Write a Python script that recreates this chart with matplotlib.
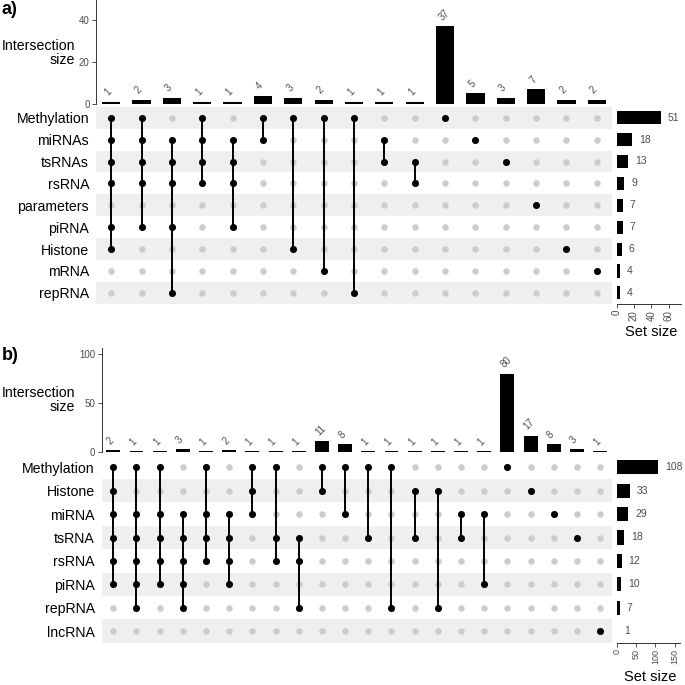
import matplotlib
matplotlib.use("Agg")
import matplotlib.pyplot as plt

plt.rcParams['font.family'] = ['Liberation Sans', 'DejaVu Sans']

# ---------------- data: panel a ----------------
sets_a = ["Methylation", "miRNAs", "tsRNAs", "rsRNA", "parameters", "piRNA", "Histone", "mRNA", "repRNA"]
set_sizes_a = [51, 18, 13, 9, 7, 7, 6, 4, 4]
inter_counts_a = [1, 2, 3, 1, 1, 4, 3, 2, 1, 1, 1, 37, 5, 3, 7, 2, 2]
inter_members_a = [
    ["Methylation", "miRNAs", "tsRNAs", "rsRNA", "piRNA", "Histone"],
    ["Methylation", "miRNAs", "tsRNAs", "rsRNA", "piRNA"],
    ["miRNAs", "tsRNAs", "rsRNA", "piRNA", "repRNA"],
    ["Methylation", "miRNAs", "tsRNAs", "rsRNA"],
    ["miRNAs", "tsRNAs", "rsRNA", "piRNA"],
    ["Methylation", "miRNAs"],
    ["Methylation", "Histone"],
    ["Methylation", "mRNA"],
    ["Methylation", "repRNA"],
    ["miRNAs", "tsRNAs"],
    ["tsRNAs", "rsRNA"],
    ["Methylation"],
    ["miRNAs"],
    ["tsRNAs"],
    ["parameters"],
    ["Histone"],
    ["mRNA"],
]
size_ticks_a = [0, 20, 40, 60]
inter_ticks_a = [0, 20, 40]

# ---------------- data: panel b ----------------
sets_b = ["Methylation", "Histone", "miRNA", "tsRNA", "rsRNA", "piRNA", "repRNA", "lncRNA"]
set_sizes_b = [108, 33, 29, 18, 12, 10, 7, 1]
inter_counts_b = [2, 1, 1, 3, 1, 2, 1, 1, 1, 11, 8, 1, 1, 1, 1, 1, 1, 80, 17, 8, 3, 1]
inter_members_b = [
    ["Methylation", "Histone", "miRNA", "tsRNA", "rsRNA", "piRNA"],
    ["Methylation", "miRNA", "tsRNA", "rsRNA", "piRNA", "repRNA"],
    ["Methylation", "miRNA", "tsRNA", "rsRNA", "piRNA"],
    ["miRNA", "tsRNA", "rsRNA", "piRNA", "repRNA"],
    ["Methylation", "miRNA", "tsRNA", "rsRNA"],
    ["miRNA", "tsRNA", "rsRNA", "piRNA"],
    ["Methylation", "Histone", "miRNA"],
    ["Methylation", "tsRNA", "rsRNA"],
    ["tsRNA", "rsRNA", "repRNA"],
    ["Methylation", "Histone"],
    ["Methylation", "miRNA"],
    ["Methylation", "tsRNA"],
    ["Methylation", "repRNA"],
    ["Histone", "tsRNA"],
    ["Histone", "repRNA"],
    ["miRNA", "tsRNA"],
    ["miRNA", "piRNA"],
    ["Methylation"],
    ["Histone"],
    ["miRNA"],
    ["tsRNA"],
    ["lncRNA"],
]
size_ticks_b = [0, 50, 100, 150]
inter_ticks_b = [0, 50, 100]

W = H = 685
fig = plt.figure(figsize=(6.85, 6.85), dpi=100)

def px(l, t, r, b):
    return [l / W, 1 - b / H, (r - l) / W, (b - t) / H]

TXT = "#4d4d4d"
AX = "#333333"
STRIPE = "#efefef"
GRAY = "#cccccc"


def panel(label, sets, sizes, counts, members, size_ticks, inter_ticks,
          mat_l, mat_r, row0, rowstep, bar_top, bar_bot, bar_ymax,
          sz_l, sz_r, sz_xmax, stripe_even, label_y, ylab_y, setlab_y, pad, sz_tick_fs):
    n = len(counts)
    m = len(sets)
    mat_t = row0 - rowstep / 2
    mat_b = row0 + rowstep * (m - 0.5)

    # intersection bars
    axb = fig.add_axes(px(mat_l, bar_top, mat_r, bar_bot))
    xs = list(range(n))
    axb.bar(xs, counts, width=0.6, color="black")
    axb.set_xlim(-0.5, n - 0.5)
    axb.set_ylim(0, bar_ymax)
    for x, c in zip(xs, counts):
        axb.annotate(str(c), (x, c), xytext=(-1, 3), textcoords="offset points",
                     rotation=45, ha="left", va="bottom", fontsize=7, color=TXT,
                     rotation_mode="anchor")
    for s in ["top", "right", "bottom"]:
        axb.spines[s].set_visible(False)
    axb.spines["left"].set_color(AX)
    axb.spines["left"].set_linewidth(0.7)
    axb.set_xticks([])
    axb.set_yticks(inter_ticks)
    axb.tick_params(axis="y", labelsize=7, labelcolor=TXT, length=3, width=0.6, color=AX, pad=1.5)
    axb.patch.set_alpha(0)
    fig.text(75 / W, 1 - ylab_y / H, "Intersection\nsize", ha="right", va="center",
             multialignment="right", fontsize=10.2, color="black", linespacing=1.05)
    fig.text(2 / W, 1 - label_y / H, label, ha="left", va="center", fontsize=13,
             fontweight="bold")

    # matrix
    axm = fig.add_axes(px(mat_l, mat_t, mat_r, mat_b))
    axm.set_xlim(-0.5, n - 0.5)
    axm.set_ylim(m - 0.5, -0.5)
    for i in range(m):
        if (i % 2 == 0) == stripe_even:
            axm.axhspan(i - 0.5, i + 0.5, color=STRIPE, lw=0, zorder=0)
    for x, mem in enumerate(members):
        rows = [sets.index(s) for s in mem]
        others = [i for i in range(m) if i not in rows]
        axm.scatter([x] * len(others), others, s=22, color=GRAY, lw=0, zorder=2)
        if len(rows) > 1:
            axm.plot([x, x], [min(rows), max(rows)], color="black", lw=1.4, zorder=3)
        axm.scatter([x] * len(rows), rows, s=26, color="black", lw=0, zorder=4)
    axm.set_yticks(range(m))
    axm.set_yticklabels(sets, fontsize=10.2)
    axm.set_xticks([])
    axm.tick_params(axis="y", length=0, pad=pad)
    for s in axm.spines.values():
        s.set_visible(False)

    # set size bars
    axs = fig.add_axes(px(sz_l, mat_t, sz_r, mat_b))
    axs.barh(range(m), sizes, height=0.6, color="black")
    axs.set_ylim(m - 0.5, -0.5)
    axs.set_xlim(0, sz_xmax)
    for i, v in enumerate(sizes):
        axs.annotate(str(v), (v, i), xytext=(5, 0), textcoords="offset points",
                     ha="left", va="center", fontsize=7.5, color=TXT)
    for s in ["top", "right", "left"]:
        axs.spines[s].set_visible(False)
    axs.spines["bottom"].set_color(AX)
    axs.spines["bottom"].set_linewidth(0.7)
    axs.set_yticks([])
    axs.set_xticks(size_ticks)
    axs.set_xticklabels([str(t) for t in size_ticks], rotation=90)
    axs.tick_params(axis="x", labelsize=sz_tick_fs, labelcolor=TXT, length=3, width=0.6,
                    color=AX, pad=1.5)
    axs.patch.set_alpha(0)
    fig.text((sz_l + sz_r) / 2 / W + 0.003, 1 - setlab_y / H, "Set size", ha="center",
             va="center", fontsize=10.5)


panel("a)", sets_a, set_sizes_a, inter_counts_a, inter_members_a, size_ticks_a, inter_ticks_a,
      mat_l=96, mat_r=612, row0=117.7, rowstep=21.9, bar_top=0, bar_bot=104, bar_ymax=49.5,
      sz_l=616.5, sz_r=681, sz_xmax=74, stripe_even=True, label_y=9, ylab_y=53,
      setlab_y=332, pad=5, sz_tick_fs=7)

panel("b)", sets_b, set_sizes_b, inter_counts_b, inter_members_b, size_ticks_b, inter_ticks_b,
      mat_l=101.7, mat_r=611.7, row0=467.3, rowstep=23.4, bar_top=348, bar_bot=452.3, bar_ymax=106,
      sz_l=617, sz_r=680, sz_xmax=164, stripe_even=False, label_y=356, ylab_y=400,
      setlab_y=677, pad=5, sz_tick_fs=6.5)

fig.savefig("out.png", dpi=100)
